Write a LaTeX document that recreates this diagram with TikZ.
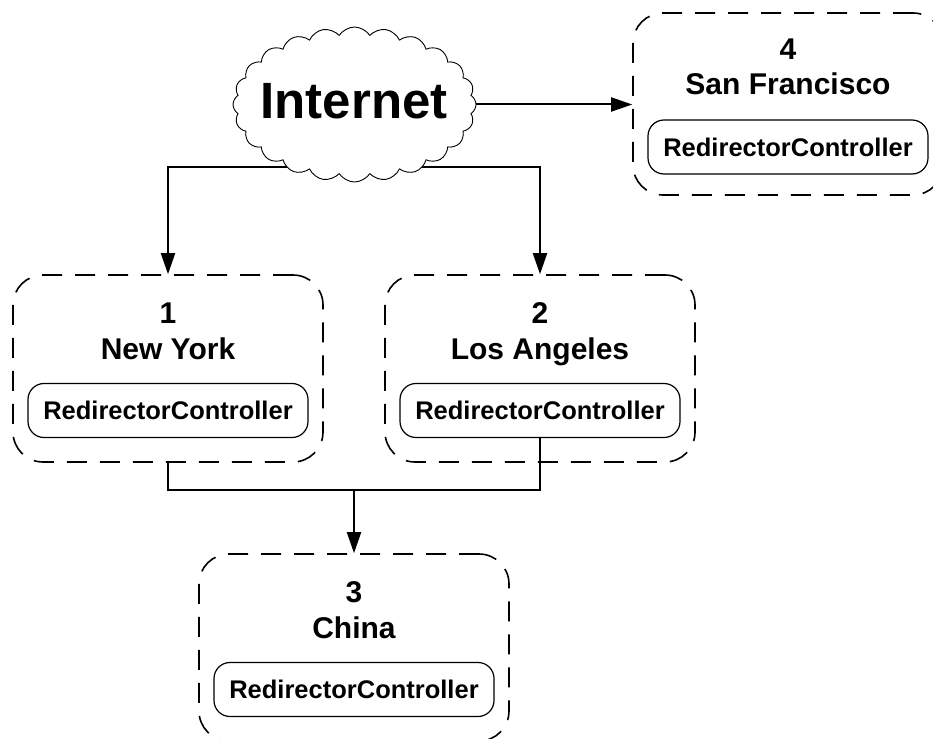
\documentclass[tikz,border=0pt]{standalone}
\usepackage{fontspec}
\setmainfont{Liberation Sans}
\usetikzlibrary{shapes.symbols,arrows.meta,backgrounds}

\tikzset{
  site/.style={draw, line width=1.6pt, dash pattern=on 20pt off 13pt,
    rounded corners=30pt, minimum width=310pt, inner sep=0pt},
  ctrl/.style={draw, line width=1.2pt, rounded corners=16pt,
    minimum width=280pt, minimum height=54pt, inner sep=0pt,
    font=\fontsize{25.5}{30}\selectfont\bfseries},
  sitelabel/.style={anchor=base, inner sep=0pt,
    font=\fontsize{30}{35}\selectfont\bfseries},
  link/.style={line width=2pt},
  flow/.style={link, -{Triangle[length=21pt,width=14pt]}},
}

\begin{document}
\begin{tikzpicture}[x=1pt, y=-1pt]
\useasboundingbox (0,0) rectangle (933,738);

% the internet cloud
\node[cloud, draw, fill=white, line width=0.9pt, cloud puffs=24,
      cloud puff arc=115, minimum width=243pt, minimum height=155pt,
      inner sep=0pt] (inet) at (354.5,104.5) {};
\node[font=\fontsize{51}{56}\selectfont\bfseries, inner sep=0pt]
      (inettext) at (354,101.5) {Internet};

% site 1: New York
\node[site, minimum height=187pt] (b1) at (168,368.5) {};
\node[sitelabel] (n1) at (168,323) {1};
\node[sitelabel] (t1) at (168,359) {New York};
\node[ctrl] (c1) at (168,410.5) {RedirectorController};

% site 2: Los Angeles
\node[site, minimum height=187pt] (b2) at (540,368.5) {};
\node[sitelabel] (n2) at (540,323) {2};
\node[sitelabel] (t2) at (540,359) {Los Angeles};
\node[ctrl] (c2) at (540,410.5) {RedirectorController};

% site 3: China
\node[site, minimum height=187pt] (b3) at (354,647.5) {};
\node[sitelabel] (n3) at (354,602) {3};
\node[sitelabel] (t3) at (354,638) {China};
\node[ctrl] (c3) at (354,689.5) {RedirectorController};

% site 4: San Francisco
\node[site, minimum height=182pt] (b4) at (788,104) {};
\node[sitelabel] (n4) at (788,60) {4};
\node[sitelabel] (t4) at (788,95) {San Francisco};
\node[ctrl] (c4) at (788,147) {RedirectorController};

\coordinate (merge) at (354,490);

\begin{pgfonlayer}{background}
  % from the internet to the sites
  \draw[flow] (inet.center |- 0,166.7) -| (b1.north);
  \draw[flow] (inet.center |- 0,166.7) -| (b2.north);
  \draw[flow] (inet.center) -- (inet.center -| b4.west);
  % from sites 1 and 2 to site 3
  \draw[link] (b1.south) |- (merge);
  \draw[link] (c2.south) |- (merge);
  \draw[flow] (merge) -- (b3.north);
\end{pgfonlayer}
\end{tikzpicture}
\end{document}
